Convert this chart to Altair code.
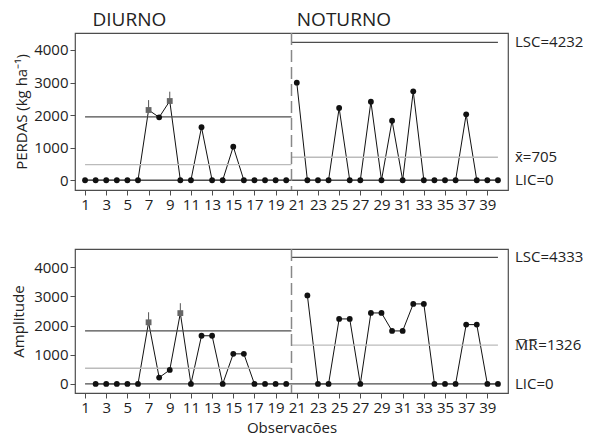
import altair as alt
import pandas as pd

# ---------------- data ----------------
obs = list(range(1, 41))
phase = ["DIURNO"] * 20 + ["NOTURNO"] * 20
perdas = [0, 0, 0, 0, 0, 0, 2156, 1932, 2432, 0,
          0, 1626, 0, 0, 1031, 0, 0, 0, 0, 0,
          2994, 0, 0, 0, 2218, 0, 0, 2411, 0, 1828,
          0, 2730, 0, 0, 0, 0, 2024, 0, 0, 0]
amplitude = [None, 0, 0, 0, 0, 0, 2110, 218, 480, 2425,
             0, 1650, 1650, 0, 1030, 1030, 0, 0, 0, 0,
             None, 3030, 0, 0, 2226, 2226, 0, 2431, 2431, 1815,
             1815, 2740, 2740, 0, 0, 0, 2031, 2031, 0, 0]
perdas_out = [7, 9]
perdas_spike = [2460, 2718]
amp_out = [7, 10]
amp_spike = [2455, 2764]

phases = ["DIURNO", "NOTURNO"]
phase_start = [1, 20.5]
phase_end = [20.5, 40]
phase_title_x = [1.7, 21]
boundary = [20.5]
perdas_lsc = [1942, 4232]
perdas_cl = [479, 705]
amp_lsc = [1815, 4333]
amp_cl = [538, 1326]
lic = [0]
perdas_labels = ["LSC=4232", "x\u0304=705", "LIC=0"]
perdas_label_vals = [4232, 705, 0]
amp_labels = ["LSC=4333", "M\u0305R\u0305=1326", "LIC=0"]
amp_label_vals = [4333, 1326, 0]

x_ticks = list(range(1, 40, 2))
y_ticks = [0, 1000, 2000, 3000, 4000]

W = 433
FONT = "Open Sans"
DARK = "#4d4d4d"
LIGHT = "#bbbbbb"
TXT = "#222222"


def panel(values, out, spikes, lsc, cl, labels, label_vals, height, ydom,
          ytitle, title_pad, show_titles, xtitle):
    df = pd.DataFrame({"obs": obs, "phase": phase, "v": values})
    df = df.dropna()
    df["out"] = df["obs"].isin(out)
    xs = alt.Scale(domain=[0.05, 40.95], nice=False, zero=False)
    ys = alt.Scale(domain=ydom, nice=False, zero=False)
    if xtitle:
        xaxis = alt.Axis(values=x_ticks, title=xtitle, titlePadding=5,
                         labelOverlap=False, format="d", labelColor=TXT)
    else:
        xaxis = alt.Axis(values=x_ticks, title=None, labelOverlap=False,
                         format="d", labelColor=TXT)
    yaxis = alt.Axis(values=y_ticks, title=ytitle, titlePadding=title_pad,
                     format="d", labelOverlap=False, labelColor=TXT)

    def X(f):
        return alt.X(f, scale=xs, axis=xaxis)

    def Y(f):
        return alt.Y(f, scale=ys, axis=yaxis)

    lim = pd.DataFrame({"phase": phases, "x1": phase_start, "x2": phase_end,
                        "lsc": lsc, "cl": cl})
    cl_rule = alt.Chart(lim).mark_rule(color=LIGHT, strokeWidth=1.3).encode(
        x=X("x1:Q"), x2="x2:Q", y=Y("cl:Q"))
    lsc_rule = alt.Chart(lim).mark_rule(color=DARK, strokeWidth=1.3).encode(
        x=X("x1:Q"), x2="x2:Q", y=Y("lsc:Q"))
    lic_df = pd.DataFrame({"x1": [phase_start[0]], "x2": [phase_end[1]], "y": lic})
    lic_rule = alt.Chart(lic_df).mark_rule(color=DARK, strokeWidth=1.3).encode(
        x=X("x1:Q"), x2="x2:Q", y=Y("y:Q"))
    bnd = alt.Chart(pd.DataFrame({"x": boundary})).mark_rule(
        color="#888888", strokeWidth=1.5, strokeDash=[12, 5]).encode(
        x=X("x:Q"), y=alt.value(0), y2=alt.value(height))

    line = alt.Chart(df).mark_line(color="#111111", strokeWidth=1).encode(
        x=X("obs:Q"), y=Y("v:Q"), detail="phase:N")
    sp = pd.DataFrame({"obs": out, "v": [df.set_index("obs").loc[o, "v"] for o in out],
                       "top": spikes})
    spike = alt.Chart(sp).mark_rule(color="#555555", strokeWidth=1).encode(
        x=X("obs:Q"), y=Y("v:Q"), y2="top:Q")
    circles = alt.Chart(df[~df["out"]]).mark_circle(
        color="#111111", size=34, opacity=1).encode(x=X("obs:Q"), y=Y("v:Q"))
    squares = alt.Chart(df[df["out"]]).mark_square(
        color="#666666", size=34, opacity=1).encode(x=X("obs:Q"), y=Y("v:Q"))

    lab = pd.DataFrame({"t": labels, "v": label_vals})
    rlabels = alt.Chart(lab).mark_text(
        align="left", baseline="middle", font=FONT, fontSize=15,
        color=TXT).encode(
        x=alt.value(W + 7), y=Y("v:Q"), text="t:N")

    layers = [line, cl_rule, lsc_rule, lic_rule, bnd, spike, circles,
              squares, rlabels]
    if show_titles:
        tdf = pd.DataFrame({"t": phases, "x": phase_title_x})
        titles = alt.Chart(tdf).mark_text(
            align="left", baseline="middle", font=FONT, fontSize=19,
            color=TXT).encode(
            x=X("x:Q"), y=alt.value(-13), text="t:N")
        layers.append(titles)
    return alt.layer(*layers).properties(width=W, height=height)


top = panel(perdas, perdas_out, perdas_spike, perdas_lsc, perdas_cl,
            perdas_labels, perdas_label_vals, 157, [-300, 4520],
            "PERDAS (kg ha\u207b\u00b9)", 4, True, None)
bottom = panel(amplitude, amp_out, amp_spike, amp_lsc, amp_cl,
               amp_labels, amp_label_vals, 144, [-310, 4620],
               "Amplitude", 7, False, "Observacões")

chart = alt.vconcat(top, bottom, spacing=34).properties(
    padding={"left": 3, "top": 2, "right": 0, "bottom": 0}
).configure_view(
    stroke=DARK, strokeWidth=1.2
).configure_axis(
    labelFont=FONT, labelFontSize=15, labelColor=TXT,
    titleFont=FONT, titleFontSize=15, titleFontWeight="normal",
    titleColor=TXT, domain=False, grid=False, tickColor=DARK,
    tickSize=5, labelPadding=2
)

chart.save("out.html", embed_options={"renderer": "svg", "actions": False})
